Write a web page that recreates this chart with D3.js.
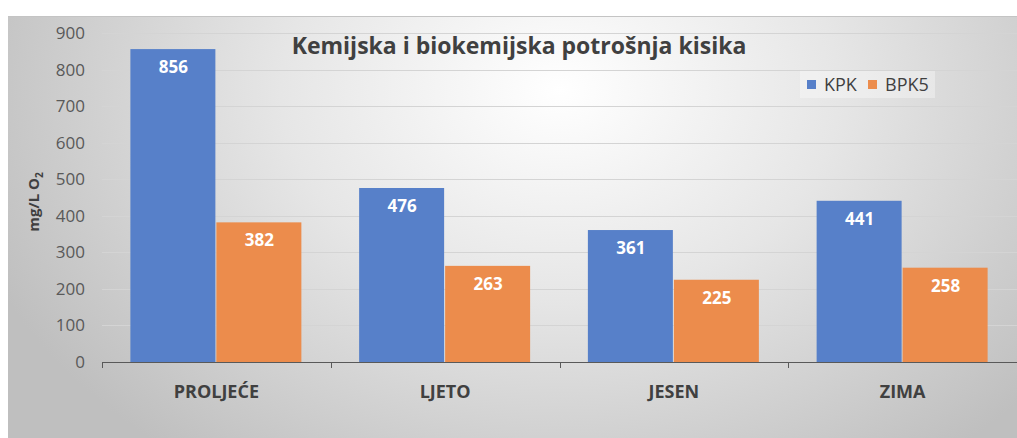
<!DOCTYPE html>
<html>
<head>
<meta charset="utf-8">
<script src="https://cdn.jsdelivr.net/npm/d3@7"></script>
<style>
  body { margin: 0; background: white; }
  svg { display: block; }
</style>
</head>
<body>
<script>
var width = 1017
var height = 438

var seasons = ["PROLJEĆE", "LJETO", "JESEN", "ZIMA"]
var seriesNames = ["KPK", "BPK5"]
var kpk = [856, 476, 361, 441]
var bpk5 = [382, 263, 225, 258]
var yTicks = [0, 100, 200, 300, 400, 500, 600, 700, 800, 900]

var kpkColor = "#5780c9"
var bpkColor = "#ec8c4c"
var colors = [kpkColor, bpkColor]
var font = "Open Sans, sans-serif"

var rows = seasons.map(function (s, i) { return { season: s, values: [kpk[i], bpk5[i]] } })

var svg = d3.select("body")
    .append("svg")
    .attr("width", width)
    .attr("height", height)

var defs = svg.append("defs")
var grad = defs.append("radialGradient")
    .attr("id", "bg")
    .attr("gradientUnits", "userSpaceOnUse")
    .attr("cx", 560).attr("cy", 90)
    .attr("r", 620)
    .attr("gradientTransform", "translate(560,90) scale(1,0.75) translate(-560,-90)")
grad.append("stop").attr("offset", "0%").attr("stop-color", "#ffffff")
grad.append("stop").attr("offset", "45%").attr("stop-color", "#e6e6e6")
grad.append("stop").attr("offset", "100%").attr("stop-color", "#bfbfbf")

// chart area
svg.append("rect")
    .attr("x", 8).attr("y", 16)
    .attr("width", width).attr("height", height)
    .attr("fill", "url(#bg)")
svg.append("line")
    .attr("x1", 8).attr("x2", width)
    .attr("y1", 16.5).attr("y2", 16.5)
    .attr("stroke", "#c4c4c4")

var x0 = d3.scaleBand().domain(seasons).range([102, 1017]).padding(0)
var x1 = d3.scaleBand().domain(seriesNames).range([0, x0.bandwidth()]).paddingOuter(0.33).paddingInner(0)
var y = d3.scaleLinear().domain([0, 900]).range([362, 33])

// gridlines
svg.append("g").selectAll("line")
    .data(yTicks.slice(1))
    .enter().append("line")
    .attr("x1", 102).attr("x2", width)
    .attr("y1", function (d) { return Math.round(y(d)) + 0.5 })
    .attr("y2", function (d) { return Math.round(y(d)) + 0.5 })
    .attr("stroke", "#d4d4d4")
    .attr("stroke-width", 1)

// y tick labels
svg.append("g").selectAll("text")
    .data(yTicks)
    .enter().append("text")
    .attr("x", 85)
    .attr("y", function (d) { return y(d) + 6 })
    .attr("text-anchor", "end")
    .attr("font-family", font)
    .attr("font-size", 17)
    .attr("fill", "#595959")
    .text(function (d) { return d })

// bars
var groups = svg.append("g").selectAll("g")
    .data(rows)
    .enter().append("g")
    .attr("transform", function (d) { return "translate(" + x0(d.season) + ",0)" })

groups.selectAll("rect")
    .data(function (d) { return d.values })
    .enter().append("rect")
    .attr("x", function (d, i) { return x1(seriesNames[i]) })
    .attr("y", function (d) { return y(d) })
    .attr("width", x1.bandwidth() - 1)
    .attr("height", function (d) { return y(0) - y(d) })
    .attr("fill", function (d, i) { return colors[i] })

groups.selectAll("text")
    .data(function (d) { return d.values })
    .enter().append("text")
    .attr("x", function (d, i) { return x1(seriesNames[i]) + x1.bandwidth() / 2 })
    .attr("y", function (d) { return y(d) + 24 })
    .attr("text-anchor", "middle")
    .attr("font-family", font)
    .attr("font-weight", "bold")
    .attr("font-size", 17)
    .attr("fill", "white")
    .text(function (d) { return d })

// x axis
var xAxis = svg.append("g")
xAxis.append("line")
    .attr("x1", 102).attr("x2", width)
    .attr("y1", 362.5).attr("y2", 362.5)
    .attr("stroke", "#595959")
xAxis.selectAll("line.tick")
    .data(seasons.concat(["end"]))
    .enter().append("line")
    .attr("class", "tick")
    .attr("x1", function (d, i) { return Math.round(102 + i * x0.bandwidth()) + 0.5 })
    .attr("x2", function (d, i) { return Math.round(102 + i * x0.bandwidth()) + 0.5 })
    .attr("y1", 362).attr("y2", 368)
    .attr("stroke", "#595959")
xAxis.selectAll("text")
    .data(seasons)
    .enter().append("text")
    .attr("x", function (d) { return x0(d) + x0.bandwidth() / 2 })
    .attr("y", 398)
    .attr("text-anchor", "middle")
    .attr("font-family", font)
    .attr("font-weight", "bold")
    .attr("font-size", 18)
    .attr("fill", "#404040")
    .text(function (d) { return d })

// y axis title
var yTitle = svg.append("text")
    .attr("transform", "translate(39,202) rotate(-90)")
    .attr("text-anchor", "middle")
    .attr("font-family", font)
    .attr("font-weight", "bold")
    .attr("font-size", 15)
    .attr("fill", "#404040")
yTitle.append("tspan").text("mg/L O")
yTitle.append("tspan").attr("dy", 4).attr("font-size", 10).text("2")

// title
svg.append("text")
    .attr("x", 519)
    .attr("y", 54)
    .attr("text-anchor", "middle")
    .attr("font-family", font)
    .attr("font-weight", "bold")
    .attr("font-size", 23)
    .attr("fill", "#404040")
    .text("Kemijska i biokemijska potrošnja kisika")

// legend
var legend = svg.append("g").attr("transform", "translate(800,71)")
legend.append("rect")
    .attr("width", 135).attr("height", 27)
    .attr("fill", "white").attr("opacity", 0.35)
var li = legend.selectAll("g")
    .data(seriesNames)
    .enter().append("g")
    .attr("transform", function (d, i) { return "translate(" + (7 + i * 61) + ",0)" })
li.append("rect")
    .attr("y", 9).attr("width", 9).attr("height", 9)
    .attr("fill", function (d, i) { return colors[i] })
li.append("text")
    .attr("x", 17).attr("y", 20)
    .attr("font-family", font)
    .attr("font-size", 18)
    .attr("fill", "#404040")
    .text(function (d) { return d })
</script>
</body>
</html>
